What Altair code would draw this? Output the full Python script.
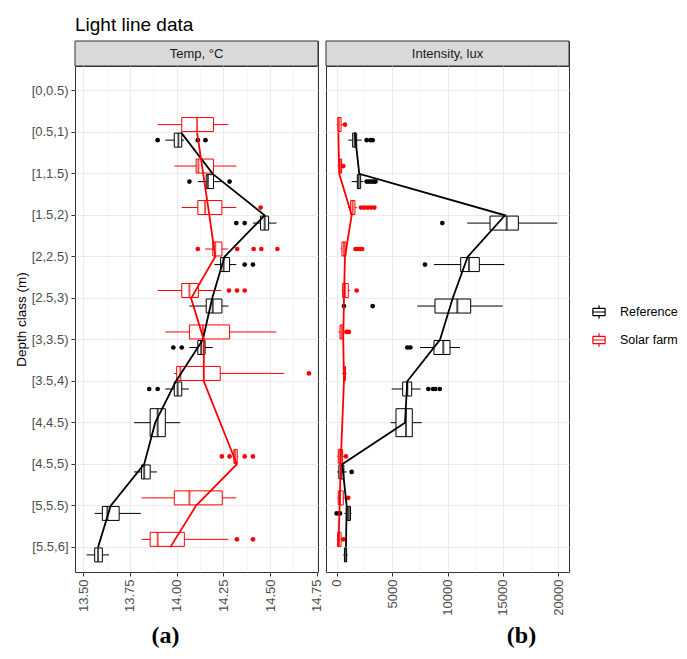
import altair as alt
import pandas as pd

DEPTHS = ["[0,0.5)", "[0.5,1)", "[1,1.5)", "[1.5,2)", "[2,2.5)", "[2.5,3)",
          "[3,3.5)", "[3.5,4)", "[4,4.5)", "[4.5,5)", "[5,5.5)", "[5.5,6]"]
GROUPS = ["Reference", "Solar farm"]
COLORS = ["black", "red"]
PANELS = ["Temp, °C", "Intensity, lux"]
PANEL_TAGS = ["(a)", "(b)"]

# ---- Temperature, Reference ----
T_REF_DEPTH = DEPTHS[1:]
T_REF_LO = [13.939, 14.113, 14.408, 14.202, 14.068, 14.068, 13.939, 13.772, 13.772, 13.561, 13.518]
T_REF_Q1 = [13.987, 14.158, 14.449, 14.235, 14.158, 14.113, 13.987, 13.858, 13.812, 13.602, 13.561]
T_REF_MED = [14.009, 14.167, 14.471, 14.251, 14.193, 14.131, 14.005, 13.898, 13.826, 13.629, 13.579]
T_REF_Q3 = [14.027, 14.197, 14.492, 14.283, 14.242, 14.152, 14.027, 13.939, 13.858, 13.692, 13.602]
T_REF_HI = [14.040, 14.238, 14.534, 14.319, 14.277, 14.193, 14.065, 14.019, 13.894, 13.808, 13.638]
T_REF_MEAN = [14.023, 14.193, 14.471, 14.256, 14.190, 14.140, 13.996, 13.885, 13.826, 13.647, 13.579]
T_REF_OUT = [[13.898, 14.113, 14.154], [14.068, 14.283], [14.319, 14.364], [14.364, 14.408], [],
             [13.982, 14.027], [13.853, 13.898], [], [], [], []]

# ---- Temperature, Solar farm ----
T_SOL_DEPTH = DEPTHS[1:8] + DEPTHS[9:]
T_SOL_LO = [13.898, 13.987, 14.027, 14.152, 13.898, 13.939, 13.985, 14.300, 13.812, 13.812]
T_SOL_Q1 = [14.027, 14.104, 14.113, 14.193, 14.027, 14.068, 14.000, 14.306, 13.987, 13.858]
T_SOL_MED = [14.109, 14.116, 14.152, 14.206, 14.068, 14.140, 14.020, 14.313, 14.068, 13.898]
T_SOL_Q3 = [14.197, 14.197, 14.242, 14.242, 14.116, 14.283, 14.233, 14.324, 14.244, 14.041]
T_SOL_HI = [14.277, 14.319, 14.319, 14.274, 14.238, 14.534, 14.575, 14.330, 14.319, 14.277]
T_SOL_MEAN = [14.109, 14.142, 14.175, 14.206, 14.077, 14.145, 14.145, 14.322, 14.104, 13.966]
T_SOL_OUT = [[], [], [14.449], [14.113, 14.324, 14.412, 14.453, 14.539], [14.280, 14.323, 14.364],
             [], [14.708], [14.242, 14.283, 14.364, 14.408], [], [14.322, 14.408]]

# ---- Light intensity, Reference ----
L_REF_DEPTH = DEPTHS[1:]
L_REF_LO = [1047, 1354, 11787, 8781, 7274, 7518, 4964, 4874, 50, 700, 600]
L_REF_Q1 = [1444, 1865, 13836, 11190, 8872, 8781, 5957, 5352, 200, 950, 700]
L_REF_MED = [1625, 1985, 15343, 11940, 10884, 9621, 6372, 6254, 400, 1100, 800]
L_REF_Q3 = [1805, 2166, 16390, 12870, 12093, 10225, 6769, 6823, 650, 1250, 900]
L_REF_HI = [2256, 2400, 19909, 15126, 14982, 11128, 7581, 7671, 900, 1350, 1000]
L_REF_MEAN = [1625, 2040, 15190, 11823, 10469, 9323, 6372, 6164, 500, 900, 839]
L_REF_OUT = [[2708, 3069, 3249], [2708, 2900, 3100, 3300, 3500], [9531], [7969], [659, 3249],
             [6372, 6650], [8270, 8700, 8900, 9300], [], [1354], [0, 300], []]

# ---- Light intensity, Solar farm ----
L_SOL_DEPTH = DEPTHS[1:8] + DEPTHS[9:]
L_SOL_LO = [0, 100, 1047, 361, 450, 150, 500, 50, 50, 0]
L_SOL_Q1 = [100, 250, 1263, 478, 541, 300, 650, 150, 150, 100]
L_SOL_MED = [200, 350, 1444, 659, 749, 450, 720, 300, 300, 200]
L_SOL_Q3 = [400, 450, 1652, 839, 1047, 600, 800, 541, 600, 400]
L_SOL_HI = [600, 550, 1805, 957, 1200, 800, 900, 650, 800, 550]
L_SOL_MEAN = [150, 235, 1354, 749, 659, 596, 659, 361, 270, 150]
L_SOL_OUT = [[750], [600], [2200, 2500, 2800, 3100, 3400], [1700, 1900, 2100, 2300], [1805],
             [900, 1100], [], [839], [1047], [600]]

FONT = "Liberation Sans"
W, H, STRIP_H = 243, 506, 25


def build(depths, lo, q1, med, q3, hi, mean, outl, group, other_depths):
    stats = pd.DataFrame({"depth": depths, "lo": lo, "q1": q1, "med": med, "q3": q3,
                          "hi": hi, "group": group})
    stats["single"] = [d not in other_depths for d in depths]
    means = pd.DataFrame({"depth": depths, "mean": mean, "group": group,
                          "idx": [DEPTHS.index(d) for d in depths]})
    rows = [{"depth": d, "value": v, "group": group} for d, vs in zip(depths, outl) for v in vs]
    outs = pd.DataFrame(rows, columns=["depth", "value", "group"])
    return stats, means, outs


def combine(a, b):
    return [pd.concat([x, y], ignore_index=True) for x, y in zip(a, b)]


temp = combine(
    build(T_REF_DEPTH, T_REF_LO, T_REF_Q1, T_REF_MED, T_REF_Q3, T_REF_HI, T_REF_MEAN, T_REF_OUT,
          GROUPS[0], T_SOL_DEPTH),
    build(T_SOL_DEPTH, T_SOL_LO, T_SOL_Q1, T_SOL_MED, T_SOL_Q3, T_SOL_HI, T_SOL_MEAN, T_SOL_OUT,
          GROUPS[1], T_REF_DEPTH))
light = combine(
    build(L_REF_DEPTH, L_REF_LO, L_REF_Q1, L_REF_MED, L_REF_Q3, L_REF_HI, L_REF_MEAN, L_REF_OUT,
          GROUPS[0], L_SOL_DEPTH),
    build(L_SOL_DEPTH, L_SOL_LO, L_SOL_Q1, L_SOL_MED, L_SOL_Q3, L_SOL_HI, L_SOL_MEAN, L_SOL_OUT,
          GROUPS[1], L_REF_DEPTH))

cscale = alt.Scale(domain=GROUPS, range=COLORS)
# boxplot glyph drawn with open sub-paths only, so nothing gets filled
BOX_GLYPH = ("M-1,-0.6H1 M1,-0.6V0.6 M1,0.6H-1 M-1,0.6V-0.6 "
             "M-1,0H1 M0,-0.6V-1.1 M0,0.6V1.1")
LEGEND = alt.Legend(
    title=None, orient="none", legendX=517, legendY=264,
    symbolType=BOX_GLYPH, symbolSize=150, symbolStrokeWidth=1.2,
    labelFont=FONT, labelFontSize=12.5, labelColor="black",
    labelOffset=14, rowPadding=8, padding=0)


def panel(data, xdomain, xvals, major, fmt, tag, tag_x, first):
    stats, means, outs = data
    dual = stats[~stats["single"]]
    single = stats[stats["single"]]

    xs = alt.Scale(domain=xdomain, nice=False, zero=False)
    xaxis = alt.Axis(
        values=xvals, title=tag, labelOverlap=False,
        labelExpr=f"({major}) ? format(datum.value, '{fmt}') : ''",
        tickOpacity={"condition": {"test": major, "value": 1}, "value": 0},
        gridWidth={"condition": {"test": major, "value": 1.0}, "value": 0.5},
        gridColor="#EBEBEB", domain=False, tickColor="#333333", tickSize=4,
        labelAngle=270, labelFont=FONT, labelFontSize=13, labelColor="#4D4D4D", labelPadding=3,
        titleFont="Liberation Serif", titleFontSize=24, titleFontWeight="bold",
        titleColor="black", titleX=tag_x, titleY=70, titleBaseline="alphabetic",
        titleAlign="center")

    if first:
        yaxis = alt.Axis(title="Depth class (m)", titleFont=FONT, titleFontSize=13.5,
                         titleFontWeight="normal", titleColor="black", titlePadding=3,
                         labelFont=FONT, labelFontSize=13, labelColor="#4D4D4D", labelPadding=3,
                         tickColor="#333333", tickSize=4, domain=False, grid=True,
                         gridColor="#EBEBEB", gridWidth=1, bandPosition=0.5)
    else:
        yaxis = alt.Axis(title=None, labels=False, ticks=False, domain=False, grid=True,
                         gridColor="#EBEBEB", gridWidth=1, bandPosition=0.5)

    ysc = alt.Scale(domain=DEPTHS, paddingInner=0.25, paddingOuter=0.225)

    def X(f):
        return alt.X(f"{f}:Q", scale=xs, axis=xaxis)

    Y = alt.Y("depth:N", scale=ysc, axis=yaxis, sort=DEPTHS)
    YO = alt.YOffset("group:N", scale=alt.Scale(domain=["Solar farm", "Reference"],
                                                 paddingInner=0.1, paddingOuter=0.05))
    stroke = alt.Stroke("group:N", scale=cscale, legend=LEGEND)
    color = alt.Color("group:N", scale=cscale, legend=None)

    whisk = alt.Chart(dual).mark_rule(strokeWidth=1).encode(x=X("lo"), x2="hi:Q", y=Y, yOffset=YO, stroke=stroke)
    box = alt.Chart(dual).mark_bar(fill="white", strokeWidth=1).encode(
        x=X("q1"), x2="q3:Q", y=Y, yOffset=YO, stroke=stroke)
    med = alt.Chart(dual).mark_tick(thickness=2, size=14).encode(x=X("med"), y=Y, yOffset=YO, color=color)

    s_whisk = alt.Chart(single).mark_rule(strokeWidth=1).encode(x=X("lo"), x2="hi:Q", y=Y, stroke=stroke)
    s_box = alt.Chart(single).mark_bar(fill="white", strokeWidth=1, height={"band": 0.9}).encode(
        x=X("q1"), x2="q3:Q", y=Y, stroke=stroke)
    s_med = alt.Chart(single).mark_tick(thickness=2, size=28).encode(x=X("med"), y=Y, color=color)

    pts = alt.Chart(outs).mark_circle(size=22, opacity=1).encode(x=X("value"), y=Y, yOffset=YO, color=color)
    line = alt.Chart(means).mark_line(strokeWidth=1.8).encode(
        x=X("mean"), y=Y, stroke=stroke, order=alt.Order("idx:Q"))

    return alt.layer(whisk, box, med, s_whisk, s_box, s_med, pts, line).properties(width=W, height=H)


def strip(label):
    df = pd.DataFrame({"panel": [label]})
    bg = alt.Chart(df).mark_rect(fill="#D9D9D9", stroke="#333333", strokeWidth=1).encode(
        x=alt.value(0), x2=alt.value(W), y=alt.value(0), y2=alt.value(STRIP_H))
    txt = alt.Chart(df).mark_text(font=FONT, fontSize=13, color="#1A1A1A").encode(
        x=alt.value(W / 2), y=alt.value(STRIP_H / 2), text="panel:N")
    return alt.layer(bg, txt).properties(width=W, height=STRIP_H)


temp_vals = [13.5 + 0.125 * i for i in range(11)]
light_vals = [2500 * i for i in range(9)]

p1 = panel(temp, [13.4556, 14.7564], temp_vals,
           "abs(datum.value*4 - round(datum.value*4)) < 0.001", ".2f", PANEL_TAGS[0], 90, True)
p2 = panel(light, [-961, 20961], light_vals,
           "datum.value % 5000 == 0", "d", PANEL_TAGS[1], 195, False)

chart = alt.concat(
    strip(PANELS[0]), strip(PANELS[1]), p1, p2,
    columns=2, spacing={"row": 0, "column": 8}, bounds="flush",
).properties(
    title=alt.TitleParams("Light line data", anchor="start", frame="group", font=FONT,
                          fontSize=19, fontWeight="normal", color="black", offset=5),
    padding={"left": 5, "top": 8, "right": 0, "bottom": 0},
).resolve_scale(stroke="shared", color="shared").configure_view(
    stroke="#333333", strokeWidth=1, fill="white")

chart.save("out.html", embed_options={"renderer": "svg", "actions": False})
